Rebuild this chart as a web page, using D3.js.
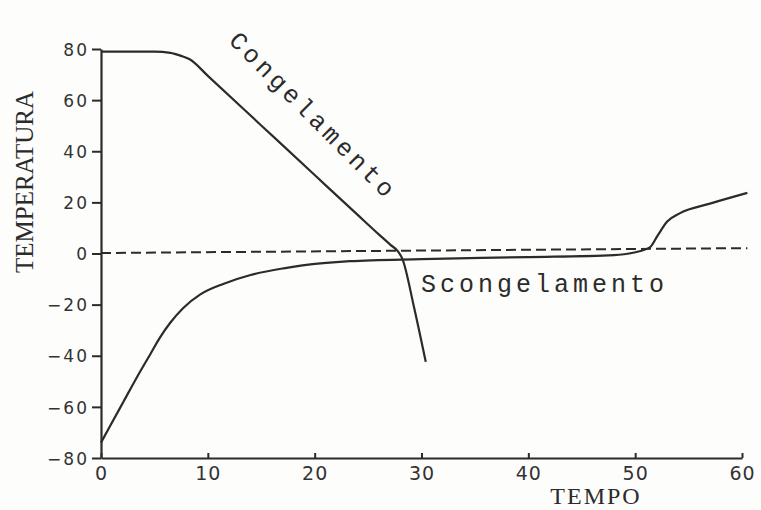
<!DOCTYPE html>
<html>
<head>
<meta charset="utf-8">
<script src="https://cdn.jsdelivr.net/npm/d3@7"></script>
<style>
  html, body { margin: 0; padding: 0; background: #fdfdfc; }
  svg { display: block; }
</style>
</head>
<body>
<svg id="chart" width="761" height="510"></svg>
<script>
"use strict";

// curve data (tempo, temperatura)
const congTime = [0, 5, 6.5, 7.5, 8.3, 10, 15, 20, 24, 26, 27.1, 27.8, 28.2, 29.3, 30.4];
const congTemp = [79, 79, 78.5, 77.3, 76, 69.5, 50.1, 30.7, 15.2, 7.5, 3.4, 0.8, -2, -21, -42.4];

const scongTime = [0, 0.85, 2.1, 3.35, 4.6, 5.5, 6.5, 7.7, 9.3, 11.5, 14, 17.1, 20.8, 23.3, 30, 40, 48, 49.8, 51.4, 52.1, 53, 54.2, 57, 60.5];
const scongTemp = [-74, -67.5, -58, -48.5, -39.5, -33, -27, -21.3, -16, -11.8, -8.4, -5.8, -3.8, -3, -2.2, -1.4, -0.6, 0.3, 2.5, 7, 12.5, 15.8, 19.5, 23.7];

// zero reference line (slightly skewed in the scan)
const zeroTime = [0, 60.5];
const zeroTemp = [0.2, 2.1];

const xTicks = [0, 10, 20, 30, 40, 50, 60];
const yTicks = [-80, -60, -40, -20, 0, 20, 40, 60, 80];

const INK = "#2b2b2b";
const x0 = 101, x1 = 742, yTop = 49, yBot = 458;

const xScale = d3.scaleLinear().domain([0, 60]).range([x0, x1]);
const yScale = d3.scaleLinear().domain([-80, 80]).range([yBot, yTop]);

const svg = d3.select("#chart");
const zip = (a, b) => a.map((v, i) => [v, b[i]]);

const line = d3.line()
    .x(d => xScale(d[0]))
    .y(d => yScale(d[1]))
    .curve(d3.curveMonotoneX);

// y axis
const yAxis = svg.append("g")
    .attr("transform", `translate(${x0},0)`)
    .call(d3.axisLeft(yScale).tickValues(yTicks).tickSize(9).tickSizeOuter(0).tickPadding(5));
// x axis (ticks point up)
const xAxis = svg.append("g")
    .attr("transform", `translate(0,${yBot})`)
    .call(d3.axisBottom(xScale).tickValues(xTicks).tickSize(-5).tickSizeOuter(0).tickPadding(9));

[yAxis, xAxis].forEach(ax => {
    ax.select(".domain").attr("stroke", INK).attr("stroke-width", 2.2);
    ax.selectAll(".tick line").attr("stroke", INK).attr("stroke-width", 2);
    ax.selectAll(".tick text")
        .attr("fill", "#333")
        .style("font-family", "'DejaVu Sans', sans-serif");
});
yAxis.selectAll(".tick text")
    .style("font-size", "17px")
    .style("letter-spacing", "2px")
    .attr("dx", "2px")
    .attr("dy", "0.36em");
xAxis.selectAll(".tick text")
    .style("font-size", "19px")
    .style("letter-spacing", "1px");

// dashed zero line
svg.append("path")
    .datum(zip(zeroTime, zeroTemp))
    .attr("fill", "none")
    .attr("stroke", INK)
    .attr("stroke-width", 2)
    .attr("stroke-dasharray", "10,5")
    .attr("d", d3.line().x(d => xScale(d[0])).y(d => yScale(d[1])));

// curves
[zip(congTime, congTemp), zip(scongTime, scongTemp)].forEach(pts => {
    svg.append("path")
        .datum(pts)
        .attr("fill", "none")
        .attr("stroke", INK)
        .attr("stroke-width", 2.2)
        .attr("stroke-linejoin", "round")
        .attr("d", line);
});

// labels
const mono = "'Liberation Mono', 'DejaVu Sans Mono', monospace";
svg.append("text")
    .attr("transform", "translate(312,117) rotate(45)")
    .attr("text-anchor", "middle")
    .attr("dominant-baseline", "central")
    .style("font-family", mono)
    .style("font-size", "25px")
    .style("letter-spacing", "3.8px")
    .attr("fill", INK)
    .text("Congelamento");

svg.append("text")
    .attr("x", 421)
    .attr("y", 292)
    .style("font-family", mono)
    .style("font-size", "25px")
    .style("letter-spacing", "4px")
    .attr("fill", INK)
    .text("Scongelamento");

svg.append("text")
    .attr("transform", "translate(33,182) rotate(-90)")
    .attr("text-anchor", "middle")
    .style("font-family", "'Liberation Serif', serif")
    .style("font-size", "25px")
    .attr("fill", INK)
    .text("TEMPERATURA");

svg.append("text")
    .attr("x", 596)
    .attr("y", 504)
    .attr("text-anchor", "middle")
    .style("font-family", "'Liberation Serif', serif")
    .style("font-size", "24px")
    .style("letter-spacing", "2px")
    .attr("fill", INK)
    .text("TEMPO");
</script>
</body>
</html>
